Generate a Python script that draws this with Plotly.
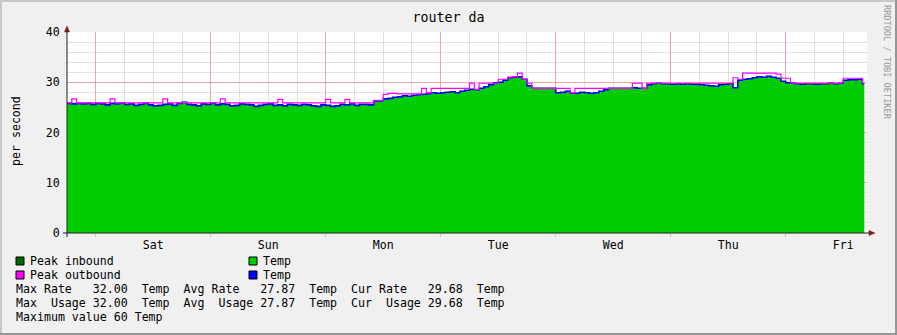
import plotly.graph_objects as go

# ---------------- data ----------------
# time in hours since Fri 18:00 (hourly samples, last point = end of data)
hours = list(range(167)) + [166.4]

avg_in = [
    25.8, 25.7, 25.8, 25.7, 25.8, 25.6, 25.8, 25.7, 25.5, 25.8,
    25.7, 25.9, 25.6, 25.7, 25.4, 25.6, 25.8, 25.5, 25.3, 25.4,
    25.6, 25.7, 25.4, 25.8, 26.0, 25.6, 25.5, 25.3, 25.7, 25.6,
    25.8, 25.5, 25.7, 25.6, 25.3, 25.4, 25.7, 25.6, 25.5, 25.2,
    25.4, 25.6, 25.7, 25.4, 25.5, 25.3, 25.6, 25.5, 25.4, 25.6,
    25.5, 25.3, 25.2, 25.5, 25.4, 25.2, 25.3, 25.6, 25.5, 25.7,
    25.4, 25.6, 25.6, 25.5, 26.3, 26.3, 26.7, 26.8, 27.0, 27.1,
    27.3, 27.2, 27.4, 27.5, 27.6, 27.7, 27.9, 27.8, 27.9, 28.0,
    28.1, 27.9, 28.2, 28.4, 28.6, 28.5, 28.8, 29.1, 29.5, 29.9,
    30.0, 30.4, 30.9, 31.0, 31.1, 30.6, 29.3, 28.8, 28.8, 28.8,
    28.8, 28.8, 27.9, 28.0, 28.2, 27.8, 27.8, 28.0, 27.9, 27.8,
    27.9, 28.2, 28.5, 28.8, 28.8, 28.8, 28.8, 28.8, 28.9, 28.8,
    28.8, 29.5, 29.7, 29.8, 29.7, 29.7, 29.6, 29.7, 29.6, 29.7,
    29.6, 29.6, 29.5, 29.4, 29.3, 29.2, 29.5, 29.6, 29.7, 28.9,
    30.4, 30.6, 30.7, 30.9, 31.1, 31.0, 31.2, 31.0, 30.8, 30.2,
    29.9, 29.8, 29.7, 29.6, 29.7, 29.7, 29.6, 29.7, 29.7, 29.8,
    29.7, 29.8, 30.4, 30.5, 30.5, 30.6, 29.7,
]

peak_out = [
    25.9, 26.7, 25.9, 25.9, 25.9, 25.9, 25.9, 25.9, 25.9, 26.7,
    25.9, 25.9, 25.9, 25.9, 25.9, 25.9, 25.9, 25.9, 25.9, 25.9,
    26.7, 25.9, 25.9, 25.9, 26.0, 25.9, 25.9, 25.9, 25.9, 25.9,
    25.9, 25.9, 26.7, 25.9, 25.9, 25.9, 25.9, 25.9, 25.9, 25.9,
    25.9, 25.9, 25.9, 25.9, 26.6, 25.9, 25.9, 25.9, 25.9, 25.9,
    25.9, 25.9, 25.9, 25.9, 26.6, 25.9, 25.9, 25.9, 26.6, 25.9,
    25.9, 25.9, 25.9, 25.9, 26.4, 26.4, 27.6, 27.8, 27.8, 27.7,
    27.7, 27.7, 27.7, 27.7, 28.8, 27.9, 28.8, 28.8, 28.8, 28.8,
    28.8, 28.8, 28.8, 28.8, 29.8, 28.6, 29.8, 29.8, 29.8, 29.8,
    30.6, 30.6, 31.0, 31.1, 31.8, 30.6, 29.8, 28.8, 28.8, 28.8,
    28.8, 28.8, 28.8, 28.8, 28.8, 27.9, 28.8, 28.8, 28.8, 28.8,
    28.8, 28.8, 28.8, 28.8, 28.8, 28.8, 28.8, 28.8, 29.8, 29.8,
    28.8, 29.8, 29.8, 29.8, 29.8, 29.8, 29.8, 29.8, 29.8, 29.8,
    29.8, 29.8, 29.8, 29.8, 29.8, 29.8, 29.8, 29.8, 29.8, 30.9,
    30.6, 31.8, 31.8, 31.8, 31.8, 31.8, 31.8, 31.8, 31.6, 30.8,
    30.8, 29.8, 29.8, 29.8, 29.8, 29.8, 29.8, 29.8, 29.8, 29.8,
    29.8, 29.8, 30.8, 30.8, 30.8, 30.8, 29.8,
]

day_hours = [18, 42, 66, 90, 114, 138, 162]
day_names = ["Sat", "Sun", "Mon", "Tue", "Wed", "Thu", "Fri"]
midnight_hours = [6, 30, 54, 78, 102, 126, 150]
six_hour_marks = list(range(0, 168, 6))
x_span = [0, 166.96]

y_major = [0, 10, 20, 30, 40]
y_minor = list(range(0, 41, 2))
y_span = [0, 40]

title = "router da"
y_title = "per second"
watermark = "RRDTOOL / TOBI OETIKER"
legend_left = ["Peak inbound", "Peak outbound"]
legend_right = ["Temp", "Temp"]
max_rate, avg_rate, cur_rate = 32.00, 27.87, 29.68
max_value = 60
unit = "Temp"

# ---------------- styling ----------------
MONO = "DejaVu Sans Mono"
C_IN = "#00CC00"
C_OUT = "#0000FF"
C_PEAK_IN = "#006600"
C_PEAK_OUT = "#FF00FF"
MGRID = "rgba(245,128,128,0.6)"
GRID = "rgba(140,140,140,0.25)"
AXIS = "#212121"
ARROW = "rgb(128,25,25)"

W, H = 897, 335
L, R, T, B = 67, 30, 32, 102
PW, PH = W - L - R, H - T - B


def px(x):
    return (x - L) / PW


def py(y):
    return (T + PH - y) / PH


def nb(s):
    return s.replace(" ", "\u00a0")


x_end = hours[-1]

fig = go.Figure()
fig.add_trace(go.Scatter(
    x=hours, y=avg_in + [avg_in[-1]], mode="lines", line=dict(width=0, shape="hv"),
    fill="tozeroy", fillcolor=C_IN, hoverinfo="skip", showlegend=False))
fig.add_trace(go.Scatter(
    x=hours, y=peak_out + [peak_out[-1]], mode="lines", xaxis="x2",
    line=dict(width=1.2, color=C_PEAK_OUT, shape="hv"), hoverinfo="skip", showlegend=False))
fig.add_trace(go.Scatter(
    x=hours, y=avg_in + [avg_in[-1]], mode="lines",
    line=dict(width=1.6, color=C_OUT, shape="hv"), hoverinfo="skip", showlegend=False))

shapes = []
# frame (3D border)
shapes += [
    dict(type="rect", xref="paper", yref="paper", x0=px(0), x1=px(W), y0=py(0), y1=py(2),
         fillcolor="#C8C8C8", line=dict(width=0)),
    dict(type="rect", xref="paper", yref="paper", x0=px(0), x1=px(2), y0=py(0), y1=py(H),
         fillcolor="#C8C8C8", line=dict(width=0)),
    dict(type="rect", xref="paper", yref="paper", x0=px(0), x1=px(W), y0=py(H - 2), y1=py(H),
         fillcolor="#969696", line=dict(width=0)),
    dict(type="rect", xref="paper", yref="paper", x0=px(W - 2), x1=px(W), y0=py(0), y1=py(H),
         fillcolor="#969696", line=dict(width=0)),
]
# axes lines with arrows
shapes += [
    dict(type="line", xref="paper", yref="paper", x0=px(63), x1=px(870), y0=0, y1=0,
         line=dict(color=AXIS, width=1)),
    dict(type="line", xref="paper", yref="paper", x0=0, x1=0, y0=py(237), y1=py(30),
         line=dict(color=AXIS, width=1)),
    dict(type="path", xref="paper", yref="paper",
         path=f"M{px(869)},{py(230.5)} L{px(875)},{py(233)} L{px(869)},{py(235.5)} Z",
         fillcolor=ARROW, line=dict(color=ARROW, width=0.5)),
    dict(type="path", xref="paper", yref="paper",
         path=f"M{px(64.5)},{py(32)} L{px(67)},{py(26)} L{px(69.5)},{py(32)} Z",
         fillcolor=ARROW, line=dict(color=ARROW, width=0.5)),
]
# legend swatches
sw = [(16, 257, C_PEAK_IN), (16, 271, C_PEAK_OUT), (249, 257, C_IN), (249, 271, C_OUT)]
for x0, y0, c in sw:
    shapes.append(dict(type="rect", xref="paper", yref="paper",
                       x0=px(x0), x1=px(x0 + 8), y0=py(y0 + 8), y1=py(y0),
                       fillcolor=c, line=dict(color="#000000", width=1)))

ann = []


def text(x, y, s, size=11.6, color="#000000", anchor="left", angle=0, yanchor="middle"):
    ann.append(dict(xref="paper", yref="paper", x=px(x), y=py(y), text=nb(s), showarrow=False,
                    xanchor=anchor, yanchor=yanchor, textangle=angle, borderpad=0, borderwidth=0,
                    font=dict(family=MONO, size=size, color=color)))


text(30, 261, legend_left[0])
text(30, 275, legend_left[1])
text(263, 261, legend_right[0])
text(263, 275, legend_right[1])
text(16, 289, f"Max Rate   {max_rate:.2f}  {unit}  Avg Rate   {avg_rate:.2f}  {unit}  Cur Rate   {cur_rate:.2f}  {unit}")
text(16, 303, f"Max  Usage {max_rate:.2f}  {unit}  Avg  Usage {avg_rate:.2f}  {unit}  Cur  Usage {cur_rate:.2f}  {unit}")
text(16, 317, f"Maximum value {max_value} {unit}")
text(16, 131, y_title, angle=-90, anchor="center")
text(887, 63, watermark, size=8.6, color="#9A9A9A", angle=90, anchor="center")

fig.update_layout(
    width=W, height=H, margin=dict(l=L, r=R, t=T, b=B, pad=0),
    paper_bgcolor="#F0F0F0", plot_bgcolor="#FFFFFF",
    title=dict(text=title, x=0.5, xref="container", xanchor="center",
               y=1 - 17 / H, yref="container", yanchor="middle",
               font=dict(family=MONO, size=13.3, color="#000000")),
    xaxis=dict(range=x_span, tickmode="array", tickvals=midnight_hours, showticklabels=False,
               showgrid=True, gridcolor=MGRID, gridwidth=1, zeroline=False, showline=False,
               ticks="outside", ticklen=3, tickcolor=MGRID,
               minor=dict(tickmode="array", tickvals=six_hour_marks, showgrid=True,
                          gridcolor=GRID, gridwidth=1, ticks="")),
    xaxis2=dict(range=x_span, overlaying="x", anchor="y", side="bottom", tickmode="array",
                tickvals=day_hours, ticktext=day_names, showgrid=False, zeroline=False,
                showline=False, ticks="", ticklabelstandoff=3,
                tickfont=dict(family=MONO, size=11.6, color="#000000")),
    yaxis=dict(range=y_span, tickmode="array", tickvals=y_major, showgrid=True,
               gridcolor=MGRID, gridwidth=1, zeroline=False, showline=False,
               ticks="outside", ticklen=4, tickcolor="rgba(0,0,0,0)",
               tickfont=dict(family=MONO, size=11.6, color="#000000"),
               minor=dict(tickmode="array", tickvals=y_minor, showgrid=True,
                          gridcolor=GRID, gridwidth=1, ticks="")),
    shapes=shapes, annotations=ann, showlegend=False,
)

fig.write_html("out.html")
